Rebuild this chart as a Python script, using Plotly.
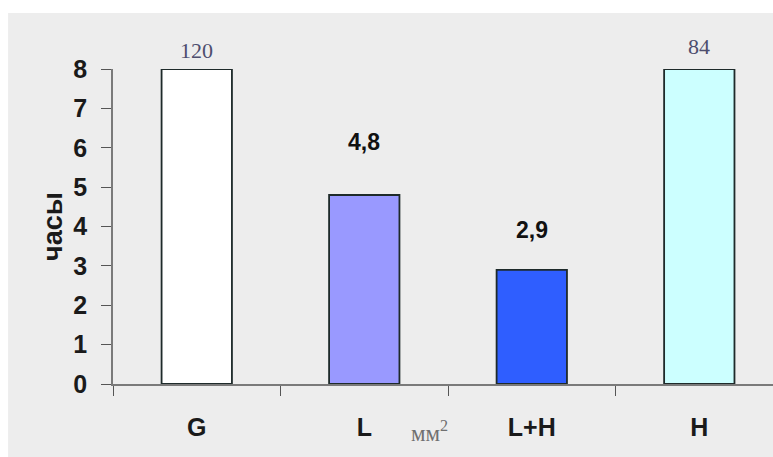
import plotly.graph_objects as go

# Data
categories = ["G", "L", "L+H", "H"]
hours = [120, 4.8, 2.9, 84]
value_labels = ["120", "4,8", "2,9", "84"]
y_ticks = [0, 1, 2, 3, 4, 5, 6, 7, 8]
y_max = 8

# Styling
bar_colors = ["#FFFFFF", "#9999FF", "#2F5EFF", "#CCFFFF"]
serif = "Liberation Serif, Times New Roman, serif"
sans = "Liberation Sans, Arial, sans-serif"
label_fonts = [
    dict(family=serif, size=22, color="#4E4E6E"),
    dict(family=sans, size=23, color="#111111", weight="bold"),
    dict(family=sans, size=23, color="#111111", weight="bold"),
    dict(family=serif, size=22, color="#4E4E6E"),
]
label_shift = [19, 53, 40, 23]

# Bars taller than the axis are capped at its top; their true value is in the label
shown = [min(v, y_max) for v in hours]

fig = go.Figure(
    go.Bar(
        x=categories,
        y=shown,
        width=0.42,
        marker=dict(color=bar_colors, line=dict(color="#1E2A2A", width=1.8)),
        hoverinfo="skip",
    )
)

for cat, val, txt, fnt, dy in zip(categories, shown, value_labels, label_fonts, label_shift):
    fig.add_annotation(
        x=cat, y=val, text=txt, showarrow=False,
        xanchor="center", yanchor="middle", yshift=dy, font=fnt,
    )

# unit note under the category axis
fig.add_annotation(
    x=0.48, y=-0.203, xref="paper", yref="paper",
    text="мм<sup>2</sup>", showarrow=False,
    font=dict(family=serif, size=23, color="#707070"),
)

# light gray panel behind the chart
fig.add_shape(
    type="rect", xref="paper", yref="paper",
    x0=-0.159, x1=1.05, y0=-0.25, y1=1.178,
    fillcolor="#EDEDED", line=dict(width=0), layer="below",
)

tick_font = dict(family=sans, size=25, color="#1A1A1A", weight="bold")

fig.update_layout(
    width=773, height=457,
    margin=dict(l=113, r=0, t=69, b=73),
    paper_bgcolor="#FFFFFF",
    plot_bgcolor="rgba(0,0,0,0)",
    showlegend=False,
    xaxis=dict(
        type="category",
        range=[-0.5, 3.44],
        showline=True, linecolor="#7A7A7A", linewidth=1.5,
        ticks="outside", tickson="boundaries", ticklen=10, tickcolor="#555555", tickwidth=1.2,
        tickfont=tick_font, ticklabelstandoff=20,
        showgrid=False, zeroline=False,
    ),
    yaxis=dict(
        range=[0, y_max],
        tickvals=y_ticks,
        showline=True, linecolor="#7A7A7A", linewidth=1.5,
        ticks="outside", ticklen=10, tickcolor="#555555", tickwidth=1.2,
        tickfont=tick_font, ticklabelstandoff=9,
        showgrid=False, zeroline=False,
        title=dict(text="часы", font=dict(family=sans, size=27, color="#1A1A1A", weight="bold"),
                   standoff=3),
    ),
)

fig.write_html("out.html")
